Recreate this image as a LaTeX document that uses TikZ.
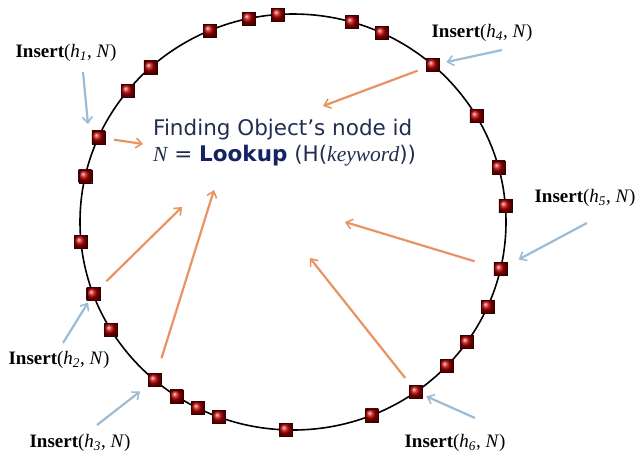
\documentclass[tikz,border=0pt]{standalone}
\usepackage{fontspec}
\usepackage{tikz}
\usepackage{xcolor}
\usetikzlibrary{arrows.meta}
\setmainfont{Liberation Serif}
\newfontfamily\verdanaish{DejaVu Sans}

\definecolor{nodered}{RGB}{185,0,0}
\definecolor{arroworange}{RGB}{232,148,98}
\definecolor{arrowblue}{RGB}{155,188,212}
\definecolor{textnavy}{RGB}{35,45,80}
\definecolor{lookupblue}{RGB}{20,35,100}

\newcommand{\hkey}[1]{\textit{h}\textsubscript{\itshape #1}}
\newcommand{\insertlbl}[1]{\textbf{Insert}(\hkey{#1}, \textit{N})}

\begin{document}
\begin{tikzpicture}[x=1pt, y=-1pt,
    ring/.style={line width=1.6pt, black},
    peer/.style={rectangle, minimum size=13pt, inner sep=0pt, draw=red!20!black,
        line width=0.4pt, ball color=nodered},
    lbl/.style={font=\fontsize{19}{22}\selectfont, inner sep=0pt},
    findarrow/.style={line width=2.2pt, arroworange, shorten <=9pt,
        -{Straight Barb[length=6pt, width=10pt, line width=1.6pt]}},
    insarrow/.style={line width=2.2pt, arrowblue,
        -{Straight Barb[length=6pt, width=10pt, line width=1.6pt]}}]
    \useasboundingbox (0,0) rectangle (635,456);

    % Ring and peers
    \begin{scope}[shift={(293,222)}]
        \draw[ring] (0,0) ellipse [x radius=213, y radius=208];
        \foreach \a [count=\i] in {228,247,258,266,286,294.6,311,329.4,344.8,355.6,
            13.1,24,35.3,43.8,54.7,68.3,91.9,110.3,116.5,123.1,130.5,148.8,159.7,
            174.5,192.7,204,219.1}
            \node[peer] (s\i) at (\a:213 and 208) {};
    \end{scope}

    % Lookup text
    \node[anchor=north west, inner sep=0pt, align=left, textnavy,
        font=\verdanaish\fontsize{21.5}{26}\selectfont] (lookup) at (153,119)
        {Finding Object’s node id\\
         {\rmfamily\itshape N} = {\color{lookupblue}\bfseries Lookup} (H({\rmfamily\itshape keyword}))};

    % Insert labels
    \node[lbl] (ins1) at (66,53) {\insertlbl{1}};
    \node[lbl] (ins2) at (59,360) {\insertlbl{2}};
    \node[lbl] (ins3) at (80,443) {\insertlbl{3}};
    \node[lbl] (ins4) at (482,33) {\insertlbl{4}};
    \node[lbl] (ins5) at (585,198) {\insertlbl{5}};
    \node[lbl] (ins6) at (455,443) {\insertlbl{6}};

    % Arrow ends
    \coordinate (t1) at (143,144);
    \coordinate (t2) at (182,207);
    \coordinate (t3) at (214,190);
    \coordinate (t4) at (323,106);
    \coordinate (t5) at (345,222);
    \coordinate (t6) at (310,258);
    \coordinate (b1) at (83,72);
    \coordinate (e1) at (88,124);
    \coordinate (b2) at (63,343);
    \coordinate (b3) at (97,425);
    \coordinate (b4) at (502,50);
    \coordinate (b5) at (587,223);
    \coordinate (b6) at (475,418);

    % Lookup arrows
    \draw[findarrow] (s26) -- (t1);
    \draw[findarrow] (s23) -- (t2);
    \draw[findarrow, shorten <=16pt] (s21) -- (t3);
    \draw[findarrow] (s7) -- (t4);
    \draw[findarrow, shorten <=20pt] (s11) -- (t5);
    \draw[findarrow] (s15) -- (t6);

    % Insert arrows
    \draw[insarrow] (b1) -- (e1);
    \draw[insarrow, shorten >=2pt] (b2) -- (s23);
    \draw[insarrow, shorten >=10pt] (b3) -- (s21);
    \draw[insarrow, shorten >=7pt] (b4) -- (s7);
    \draw[insarrow, shorten >=13pt] (b5) -- (s11);
    \draw[insarrow, shorten >=4pt] (b6) -- (s15);
\end{tikzpicture}
\end{document}
